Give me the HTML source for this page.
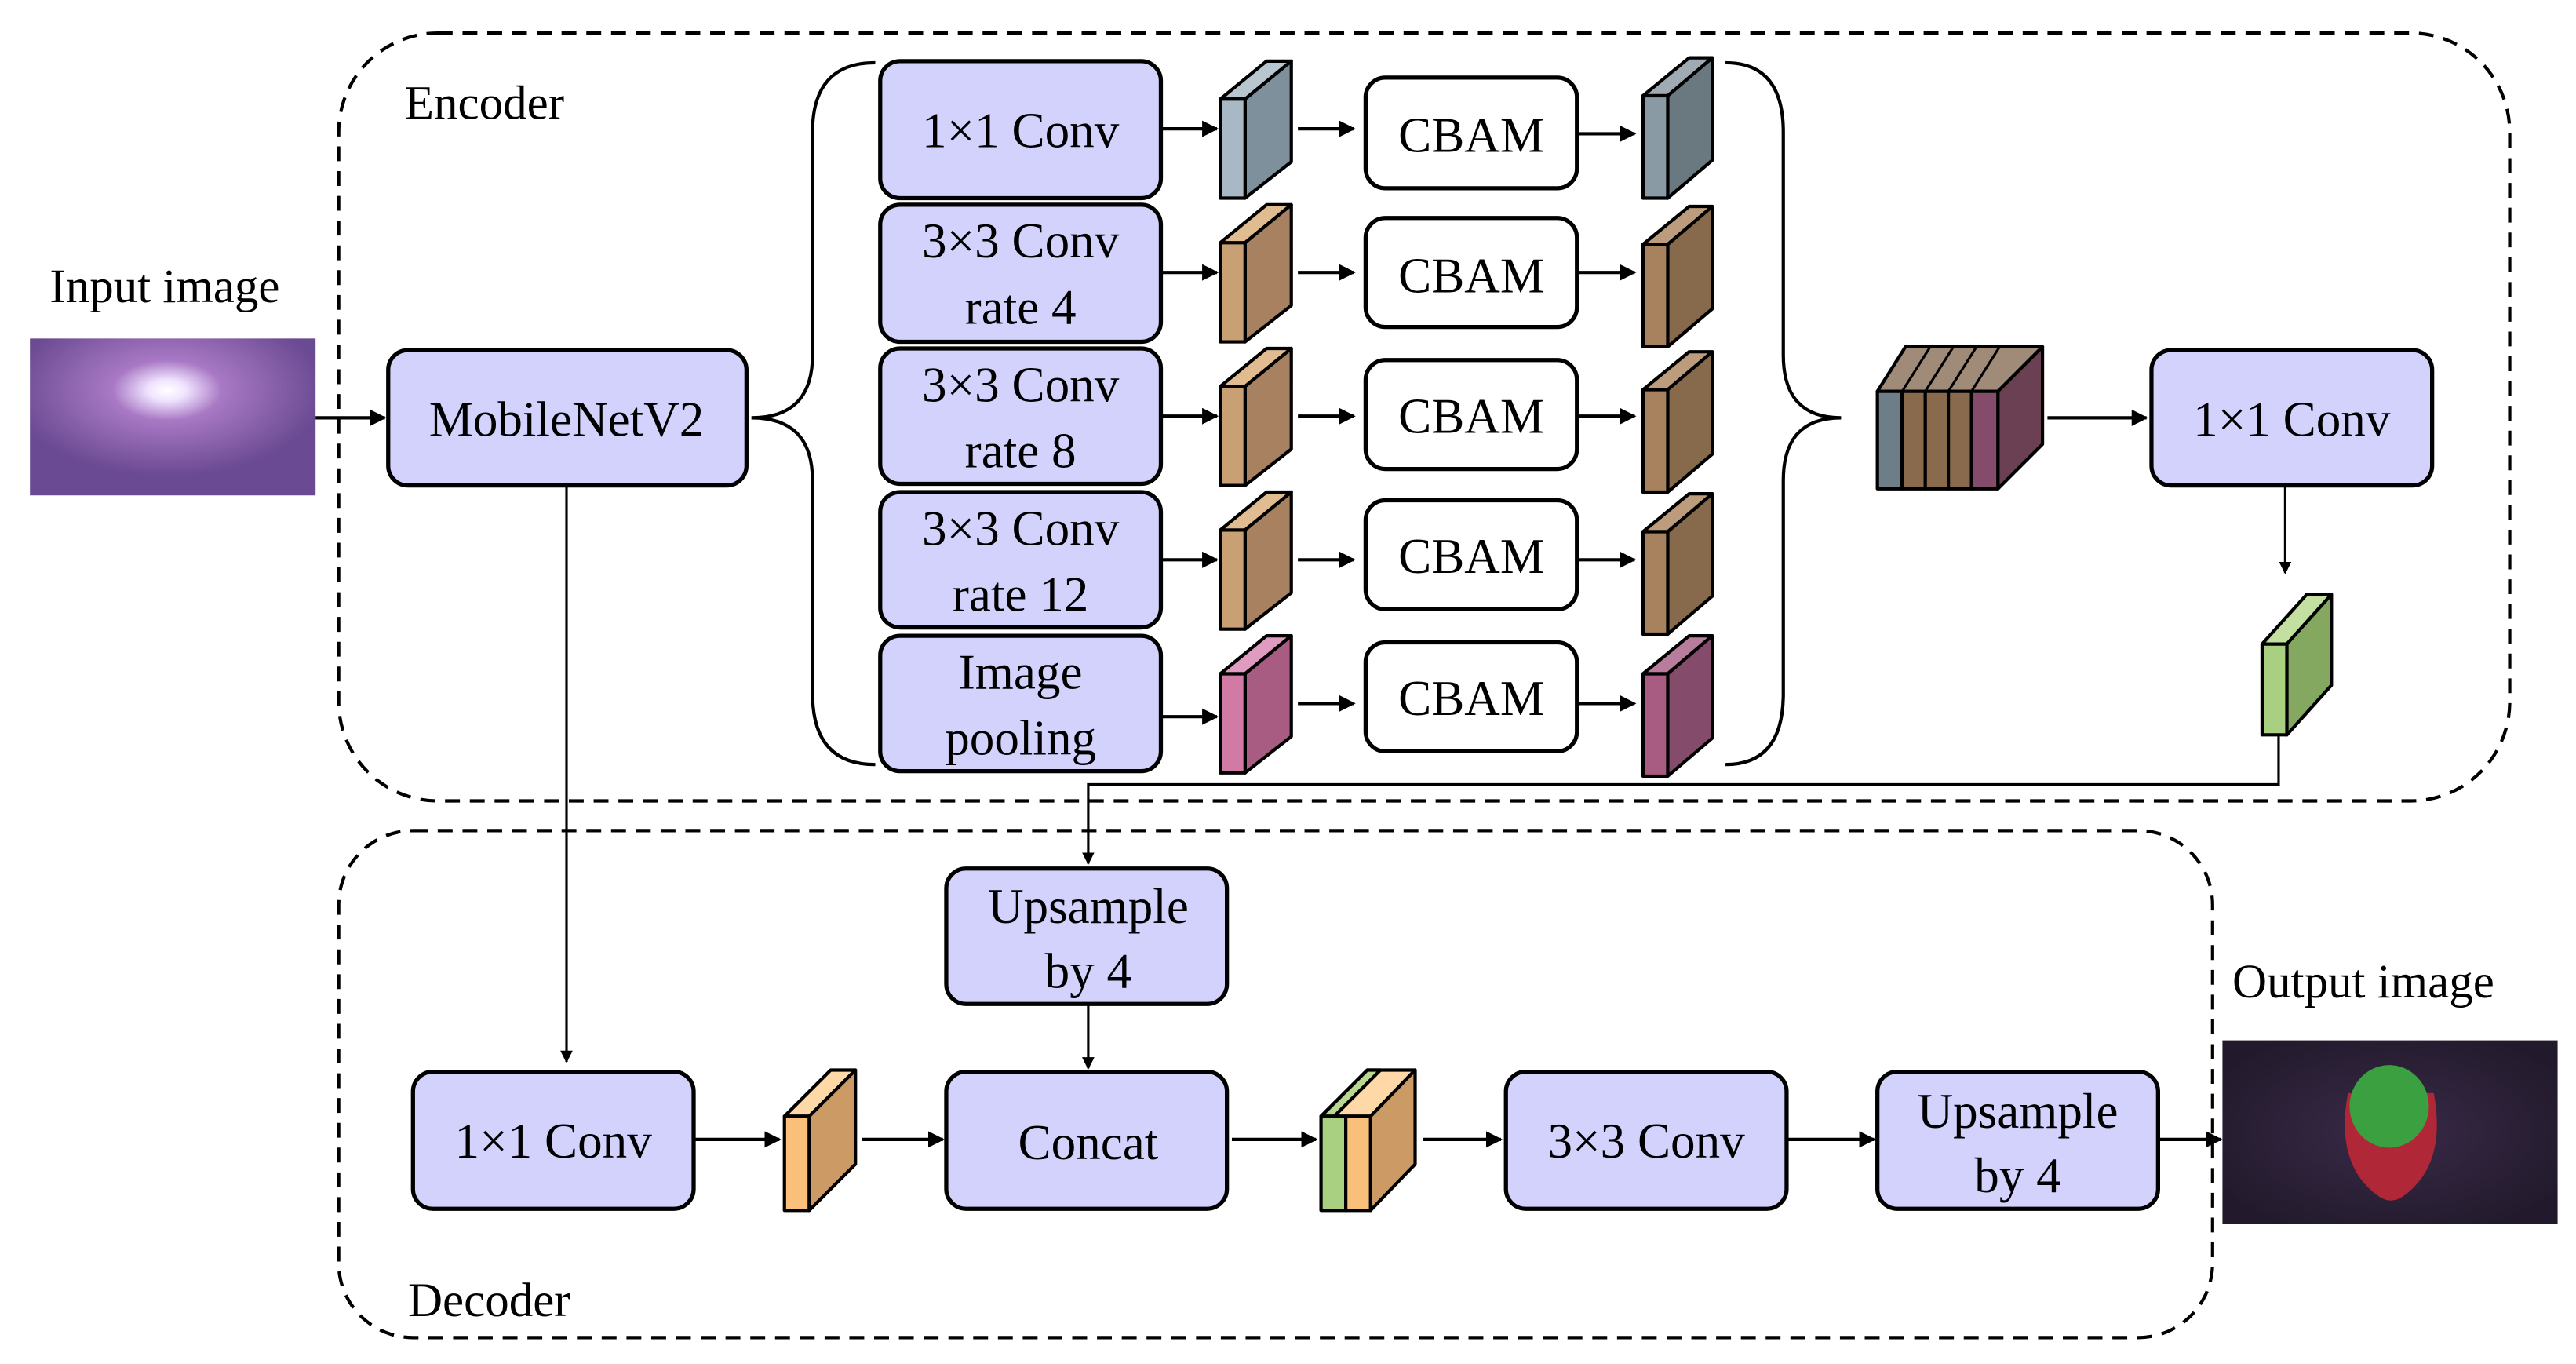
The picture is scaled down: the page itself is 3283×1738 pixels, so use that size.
<!DOCTYPE html>
<html><head><meta charset="utf-8"><style>html,body{margin:0;padding:0;background:#fff}svg{display:block}text{font-family:"Liberation Serif","DejaVu Serif","Times New Roman",serif}</style></head>
<body>
<svg width="3283" height="1738" viewBox="0 0 1560 826" xmlns="http://www.w3.org/2000/svg">
<defs>
<marker id="ah" viewBox="0 0 10 10" refX="9" refY="5" markerWidth="5" markerHeight="5" orient="auto"><path d="M0,0 L10,5 L0,10 z" fill="#000"/></marker>
<radialGradient id="glow" cx="0.48" cy="0.33" r="0.55"><stop offset="0" stop-color="#fff"/><stop offset="0.12" stop-color="#f0e4ff"/><stop offset="0.35" stop-color="#a878c4"/><stop offset="1" stop-color="#6a4a92"/></radialGradient>
<radialGradient id="dark" cx="0.5" cy="0.5" r="0.6"><stop offset="0" stop-color="#3a2a48"/><stop offset="1" stop-color="#221a2c"/></radialGradient>
</defs>
<g fill="none" stroke="#000" stroke-width="2" stroke-dasharray="9,6">
<rect x="205" y="20" width="1315" height="465" rx="60"/>
<rect x="205" y="503" width="1135" height="307" rx="45"/>
</g>
<g font-size="29" fill="#000">
<text x="245" y="72">Encoder</text>
<text x="247" y="797">Decoder</text>
<text x="30" y="183">Input image</text>
<text x="1352" y="604">Output image</text>
</g>
<rect x="18" y="205" width="173" height="95" fill="url(#glow)"/>
<rect x="1346" y="630" width="203" height="111" fill="url(#dark)"/>
<path d="M1422,662 Q1414,705 1440,724 Q1448,730 1456,724 Q1482,705 1474,662 z" fill="#b02838"/>
<ellipse cx="1447" cy="670" rx="24" ry="25" fill="#3aa040"/>

<g stroke="#000" stroke-width="2" fill="none" marker-end="url(#ah)">
<line x1="191" y1="253" x2="233" y2="253"/>
<line x1="703" y1="78" x2="737" y2="78"/><line x1="703" y1="165" x2="737" y2="165"/><line x1="703" y1="252" x2="737" y2="252"/><line x1="703" y1="339" x2="737" y2="339"/><line x1="703" y1="434" x2="737" y2="434"/>
<line x1="786" y1="78" x2="820" y2="78"/><line x1="786" y1="165" x2="820" y2="165"/><line x1="786" y1="252" x2="820" y2="252"/><line x1="786" y1="339" x2="820" y2="339"/><line x1="786" y1="426" x2="820" y2="426"/>
<line x1="955" y1="81" x2="990" y2="81"/><line x1="955" y1="165" x2="990" y2="165"/><line x1="955" y1="252" x2="990" y2="252"/><line x1="955" y1="339" x2="990" y2="339"/><line x1="955" y1="426" x2="990" y2="426"/>
<line x1="1240" y1="253" x2="1300" y2="253"/>
<line x1="1384" y1="294" x2="1384" y2="347" stroke-width="1.5"/>
<polyline points="1380,445 1380,475 659,475 659,523" stroke-width="1.5"/>
<line x1="659" y1="608" x2="659" y2="647" stroke-width="1.5"/>
<line x1="343" y1="294" x2="343" y2="643" stroke-width="1.5"/>
<line x1="420" y1="690" x2="472" y2="690"/>
<line x1="522" y1="690" x2="571" y2="690"/>
<line x1="746" y1="690" x2="797" y2="690"/>
<line x1="862" y1="690" x2="909" y2="690"/>
<line x1="1082" y1="690" x2="1135" y2="690"/>
<line x1="1307" y1="690" x2="1345" y2="690"/>
</g>

<g stroke="#000" stroke-width="2" fill="none">
<path d="M530,38 Q492,38 492,80 L492,215 Q492,253 455,253 Q492,253 492,291 L492,420 Q492,463 530,463"/>
<path d="M1045,38 Q1080,38 1080,80 L1080,215 Q1080,253 1115,253 Q1080,253 1080,291 L1080,420 Q1080,463 1045,463"/>
</g>

<g stroke="#000" stroke-width="2.5" fill="#d2d2fc">
<rect x="235" y="212" width="217" height="82" rx="12"/>
<rect x="533" y="37" width="170" height="83" rx="12"/>
<rect x="533" y="124" width="170" height="83" rx="12"/>
<rect x="533" y="211" width="170" height="82" rx="12"/>
<rect x="533" y="298" width="170" height="82" rx="12"/>
<rect x="533" y="385" width="170" height="82" rx="12"/>
<rect x="1303" y="212" width="170" height="82" rx="12"/>
<rect x="573" y="526" width="170" height="82" rx="12"/>
<rect x="250" y="649" width="170" height="83" rx="12"/>
<rect x="573" y="649" width="170" height="83" rx="12"/>
<rect x="912" y="649" width="170" height="83" rx="12"/>
<rect x="1137" y="649" width="170" height="83" rx="12"/>
<g fill="#fff">
<rect x="827" y="47" width="128" height="67" rx="12"/>
<rect x="827" y="132" width="128" height="66" rx="12"/>
<rect x="827" y="218" width="128" height="66" rx="12"/>
<rect x="827" y="303" width="128" height="66" rx="12"/>
<rect x="827" y="389" width="128" height="66" rx="12"/>
</g>
</g>

<g font-size="30" text-anchor="middle" fill="#000">
<text x="343" y="264">MobileNetV2</text>
<text x="618" y="89">1×1 Conv</text>
<text x="618" y="156">3×3 Conv</text><text x="618" y="196">rate 4</text>
<text x="618" y="243">3×3 Conv</text><text x="618" y="283">rate 8</text>
<text x="618" y="330">3×3 Conv</text><text x="618" y="370">rate 12</text>
<text x="618" y="417">Image</text><text x="618" y="457">pooling</text>
<text x="891" y="92">CBAM</text><text x="891" y="177">CBAM</text><text x="891" y="262">CBAM</text><text x="891" y="347">CBAM</text><text x="891" y="433">CBAM</text>
<text x="1388" y="264">1×1 Conv</text>
<text x="659" y="559">Upsample</text><text x="659" y="598">by 4</text>
<text x="335" y="701">1×1 Conv</text>
<text x="659" y="702">Concat</text>
<text x="997" y="701">3×3 Conv</text>
<text x="1222" y="683">Upsample</text><text x="1222" y="722">by 4</text>
</g>

<g stroke="#000" stroke-width="2" stroke-linejoin="round">
<g><polygon points="739,60 767,37 782,37 754,60" fill="#b8c6d0"/><polygon points="754,60 782,37 782,98 754,120" fill="#7e909c"/><rect x="739" y="60" width="15" height="60" fill="#a8b8c4"/></g>
<g><polygon points="739,147 767,124 782,124 754,147" fill="#e0bc90"/><polygon points="754,147 782,124 782,185 754,207" fill="#a88260"/><rect x="739" y="147" width="15" height="60" fill="#c9a074"/></g>
<g><polygon points="739,234 767,211 782,211 754,234" fill="#e0bc90"/><polygon points="754,234 782,211 782,272 754,294" fill="#a88260"/><rect x="739" y="234" width="15" height="60" fill="#c9a074"/></g>
<g><polygon points="739,321 767,298 782,298 754,321" fill="#e0bc90"/><polygon points="754,321 782,298 782,359 754,381" fill="#a88260"/><rect x="739" y="321" width="15" height="60" fill="#c9a074"/></g>
<g><polygon points="739,408 767,385 782,385 754,408" fill="#e09cc0"/><polygon points="754,408 782,385 782,446 754,468" fill="#a85c82"/><rect x="739" y="408" width="15" height="60" fill="#d07aa4"/></g>
<g><polygon points="995,58 1023,35 1037,35 1010,58" fill="#a0aab2"/><polygon points="1010,58 1037,35 1037,97 1010,120" fill="#6a7880"/><rect x="995" y="58" width="15" height="62" fill="#8a9aa4"/></g>
<g><polygon points="995,148 1023,125 1037,125 1010,148" fill="#bc9c7c"/><polygon points="1010,148 1037,125 1037,187 1010,210" fill="#876a4c"/><rect x="995" y="148" width="15" height="62" fill="#a8825f"/></g>
<g><polygon points="995,236 1023,213 1037,213 1010,236" fill="#bc9c7c"/><polygon points="1010,236 1037,213 1037,275 1010,298" fill="#876a4c"/><rect x="995" y="236" width="15" height="62" fill="#a8825f"/></g>
<g><polygon points="995,322 1023,299 1037,299 1010,322" fill="#bc9c7c"/><polygon points="1010,322 1037,299 1037,361 1010,384" fill="#876a4c"/><rect x="995" y="322" width="15" height="62" fill="#a8825f"/></g>
<g><polygon points="995,408 1023,385 1037,385 1010,408" fill="#b87c9c"/><polygon points="1010,408 1037,385 1037,447 1010,470" fill="#844c6a"/><rect x="995" y="408" width="15" height="62" fill="#a85c82"/></g>
<polygon points="1137,237 1154,210 1237,210 1210,237" fill="#a08a78"/>
<polygon points="1210,237 1237,210 1237,269 1210,296" fill="#6a4052"/>
<rect x="1137" y="237" width="15" height="59" fill="#6e7e88"/>
<rect x="1152" y="237" width="14" height="59" fill="#8a6a4c"/>
<rect x="1166" y="237" width="14" height="59" fill="#8a6a4c"/>
<rect x="1180" y="237" width="14" height="59" fill="#8a6a4c"/>
<rect x="1194" y="237" width="16" height="59" fill="#844c6a"/>
<g fill="none" stroke-width="1.5"><line x1="1152" y1="237" x2="1169" y2="210"/><line x1="1166" y1="237" x2="1183" y2="210"/><line x1="1180" y1="237" x2="1197" y2="210"/><line x1="1194" y1="237" x2="1211" y2="210"/></g>
<g><polygon points="1370,390 1397,360 1412,360 1385,390" fill="#c4e0a0"/><polygon points="1385,390 1412,360 1412,415 1385,445" fill="#84a860"/><rect x="1370" y="390" width="15" height="55" fill="#a8d080"/></g>
<g><polygon points="475,676 503,648 518,648 490,676" fill="#ffd8a8"/><polygon points="490,676 518,648 518,705 490,733" fill="#cc9a64"/><rect x="475" y="676" width="15" height="57" fill="#fbbf7c"/></g>
<g><polygon points="800,676 828,648 857,648 830,676" fill="#ffd8a8"/><polygon points="800,676 828,648 836,648 808,676" fill="#b8d890"/><polygon points="830,676 857,648 857,705 830,733" fill="#cc9a64"/><rect x="800" y="676" width="15" height="57" fill="#a8d080"/><rect x="815" y="676" width="15" height="57" fill="#fbbf7c"/></g>
</g>
</svg>
</body></html>
